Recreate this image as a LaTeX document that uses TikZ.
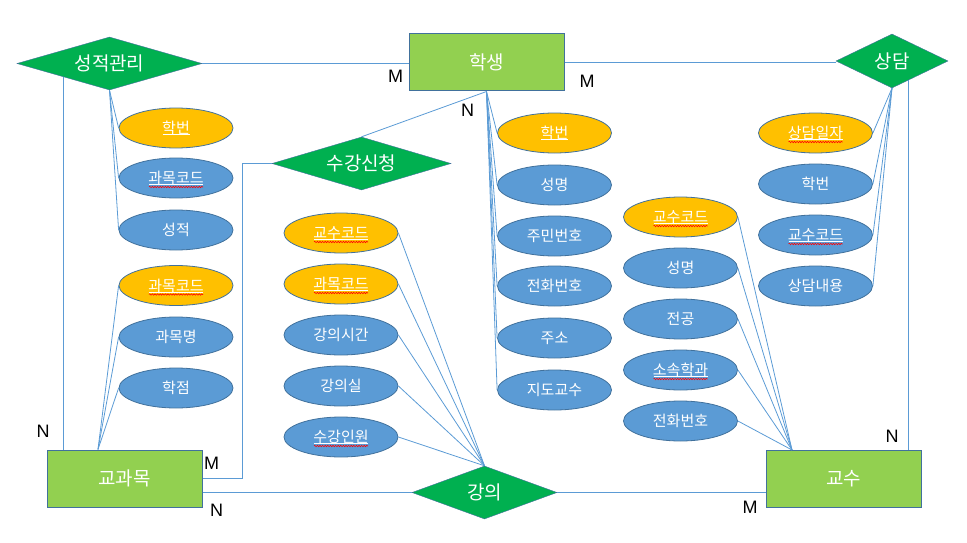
\documentclass[tikz,border=0pt]{standalone}
\usepackage{fontspec}
\setmainfont{Noto Sans CJK KR}
\newfontfamily\latinfont{Liberation Sans}
\usetikzlibrary{positioning,calc,shapes.geometric,decorations.pathmorphing}
\definecolor{entfill}{HTML}{92D050}
\definecolor{relfill}{HTML}{00B050}
\definecolor{attrfill}{HTML}{5B9BD5}
\definecolor{keyfill}{HTML}{FFC000}
\definecolor{edge}{HTML}{41719C}
\definecolor{link}{HTML}{5B9BD5}
\tikzset{
  ent/.style={draw=edge,line width=1pt,fill=entfill,minimum width=155pt,minimum height=57pt,inner sep=0pt,text=white,font=\fontsize{19}{19}\selectfont},
  rel/.style={diamond,draw=edge,line width=0.4pt,fill=relfill,inner sep=0pt,shape aspect=3,text=white,font=\fontsize{19}{19}\selectfont},
  attr/.style={ellipse,draw=edge,line width=0.8pt,fill=attrfill,minimum width=114pt,minimum height=40pt,inner sep=0pt,text=white,font=\fontsize{15}{15}\selectfont},
  key/.style={attr,fill=keyfill},
  con/.style={draw=link,line width=0.8pt},
  card/.style={font=\latinfont\fontsize{18}{18}\selectfont,text=black,inner sep=0pt},
  uline/.style={draw=white,line width=0.8pt},
  spell/.style={draw=red,line width=0.6pt,decorate,decoration={snake,segment length=2.6pt,amplitude=0.7pt}},
}

\begin{document}
\begin{tikzpicture}[x=1pt,y=-1pt]
\useasboundingbox (0,0) rectangle (967,543);
% entities
\node[ent] (st) at (486.5,62.5) {학생};
\node[ent] (kgm) at (124.5,478.5) {교과목};
\node[ent] (prof) at (843.5,479) {교수};
% relationships
\node[rel,minimum width=185pt,minimum height=53pt] (gm) at (109.5,63.5) {성적관리};
\node[rel,minimum width=179pt,minimum height=53pt] (sc) at (361.5,163.5) {수강신청};
\node[rel,minimum width=112pt,minimum height=54pt] (sd) at (892,61) {상담};
\node[rel,minimum width=145pt,minimum height=53pt] (lec) at (484.5,492.5) {강의};
% attributes
\foreach \n/\s/\y/\t in {ga1/key/128/학번,ga2/attr/178/과목코드,ga3/attr/230/성적,
    ka1/key/285.5/과목코드,ka2/attr/337/과목명,ka3/attr/388/학점}
  \node[\s] (\n) at (176,\y) {\t};
\foreach \n/\s/\y/\t in {la1/key/233/교수코드,la2/key/284/과목코드,la3/attr/335/강의시간,
    la4/attr/386/강의실,la5/attr/437/수강인원}
  \node[\s] (\n) at (341,\y) {\t};
\foreach \n/\s/\y/\t in {sa1/key/133/학번,sa2/attr/185/성명,sa3/attr/236/주민번호,
    sa4/attr/286/전화번호,sa5/attr/338/주소,sa6/attr/390/지도교수}
  \node[\s] (\n) at (554.5,\y) {\t};
\foreach \n/\s/\y/\t in {pa1/key/217/교수코드,pa2/attr/268/성명,pa3/attr/319/전공,
    pa4/attr/370/소속학과,pa5/attr/421/전화번호}
  \node[\s] (\n) at (680.5,\y) {\t};
\foreach \n/\s/\y/\t in {da1/key/133/상담일자,da2/attr/184/학번,da3/attr/235/교수코드,
    da4/attr/286/상담내용}
  \node[\s] (\n) at (815.5,\y) {\t};
% key underlines and spelling marks
\foreach \n/\w in {ga1/13.5,ga2/27,ka1/27,la1/27,la2/27,la5/27,sa1/13.5,pa1/27,pa4/27,da1/27,da3/27}
  \draw[uline] ($(\n.center)+(-\w,6.5)$) -- ($(\n.center)+(\w,6.5)$);
\foreach \n in {ga2,ka1,la1,la2,la5,pa1,pa4,da1,da3}
  \draw[spell] ($(\n.center)+(-27,9)$) -- ($(\n.center)+(27,9)$);
% attribute links
\foreach \n in {ga1,ga2,ga3} \draw[con] (gm.south) -- (\n.west);
\coordinate (kgmtop) at ($(kgm.north west)!0.33!(kgm.north east)$);
\foreach \n in {ka1,ka2,ka3} \draw[con] (kgmtop) -- (\n.west);
\foreach \n in {la1,la2,la3,la4,la5} \draw[con] (lec.north) -- (\n.east);
\foreach \n in {sa1,sa2,sa3,sa4,sa5,sa6} \draw[con] (st.south) -- (\n.west);
\coordinate (proftop) at ($(prof.north west)!0.17!(prof.north east)$);
\foreach \n in {pa1,pa2,pa3,pa4,pa5} \draw[con] (proftop) -- (\n.east);
\foreach \n in {da1,da2,da3,da4} \draw[con] (sd.south) -- (\n.east);
% relationship links
\draw[con] (gm.east) -- (gm.east -| st.west);
\draw[con] (st.east) -- (st.east -| sd.west);
\draw[con] (gm.south west) -- (gm.south west |- kgm.north);
\coordinate (sdfoot) at ($(sd.south)!0.3!(sd.east)$);
\draw[con] (sdfoot) -- (sdfoot |- prof.north);
\draw[con] (st.south) -- (sc.north);
\draw[con] (sc.west) -- ++(-29,0) |- (kgm.east);
\draw[con] (lec.west -| kgm.east) -- (lec.west);
\draw[con] (lec.east) -- (lec.east -| prof.west);
% cardinalities
\node[card] (c1) at (395.5,76.5) {M};
\node[card] (c2) at (587,81.5) {M};
\node[card] (c3) at (467.5,110) {N};
\node[card] (c4) at (43,431) {N};
\node[card] (c5) at (211.5,463.5) {M};
\node[card] (c6) at (216.5,510) {N};
\node[card] (c7) at (892,436) {N};
\node[card] (c8) at (750,507.5) {M};
\end{tikzpicture}
\end{document}
